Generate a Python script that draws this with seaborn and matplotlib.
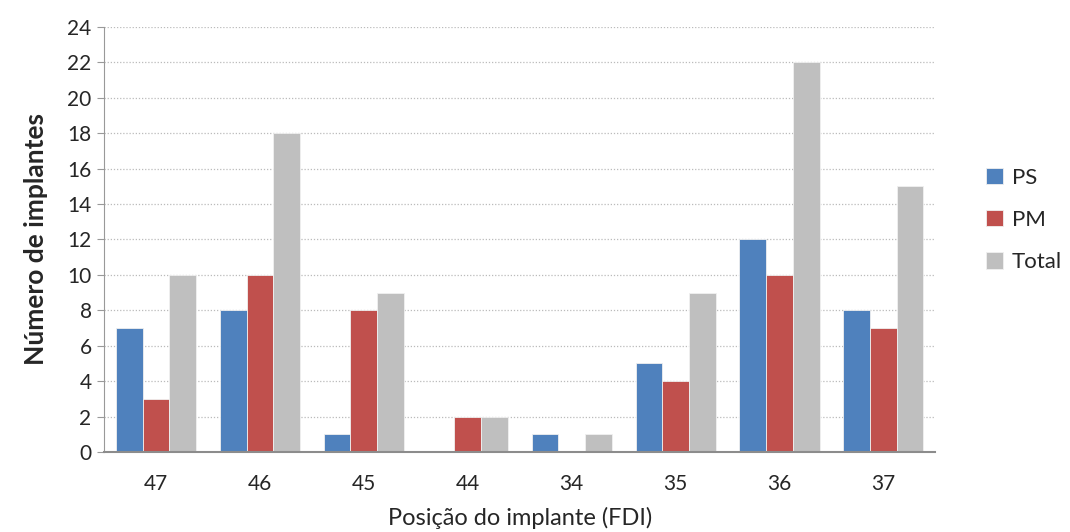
import seaborn as sns
import matplotlib.pyplot as plt
import pandas as pd

sns.set_style("white")
plt.rcParams['font.family'] = ['Lato', 'DejaVu Sans']

positions = ["47", "46", "45", "44", "34", "35", "36", "37"]
ps = [7, 8, 1, 0, 1, 5, 12, 8]
pm = [3, 10, 8, 2, 0, 4, 10, 7]
total = [10, 18, 9, 2, 1, 9, 22, 15]

df = pd.DataFrame({
    "pos": positions * 3,
    "n": ps + pm + total,
    "grupo": ["PS"] * 8 + ["PM"] * 8 + ["Total"] * 8,
})

colors = {"PS": "#4F81BD", "PM": "#C0504D", "Total": "#BFBFBF"}

fig = plt.figure(figsize=(10.7, 5.32), dpi=100)
ax = fig.add_axes([0.0972, 0.1504, 0.777, 0.799])

sns.barplot(data=df, x="pos", y="n", hue="grupo", order=positions,
            hue_order=["PS", "PM", "Total"], palette=colors, width=0.77,
            saturation=1, ax=ax, errorbar=None, linewidth=0.6, edgecolor="#F0F0F0")

ax.set_ylim(0, 24)
ax.set_xlim(-0.5, 7.5)
ax.set_yticks(range(0, 25, 2))
ax.yaxis.grid(True, linestyle=(0, (1, 1.5)), color="#BBBBBB", linewidth=0.9)
ax.set_axisbelow(True)

for s in ["top", "right"]:
    ax.spines[s].set_visible(False)
ax.spines["left"].set_linestyle((0, (1, 1)))
ax.spines["left"].set_color("#999999")
ax.spines["bottom"].set_color("#8C8C8C")
ax.spines["bottom"].set_linewidth(1.5)

ax.tick_params(axis="y", left=True, length=5, width=0.8, color="#999999",
               labelsize=15, pad=4)
ax.tick_params(axis="x", bottom=False, labelsize=15, pad=12)

ax.set_ylabel("Número de implantes", fontsize=19, fontweight="bold", labelpad=14)
ax.set_xlabel("Posição do implante (FDI)", fontsize=17, labelpad=10)

ax.legend(loc="center left", bbox_to_anchor=(1.037, 0.546), frameon=False,
          fontsize=16, handlelength=0.75, handleheight=0.75, handletextpad=0.4,
          labelspacing=1.0)

fig.savefig("out.png", dpi=100)
